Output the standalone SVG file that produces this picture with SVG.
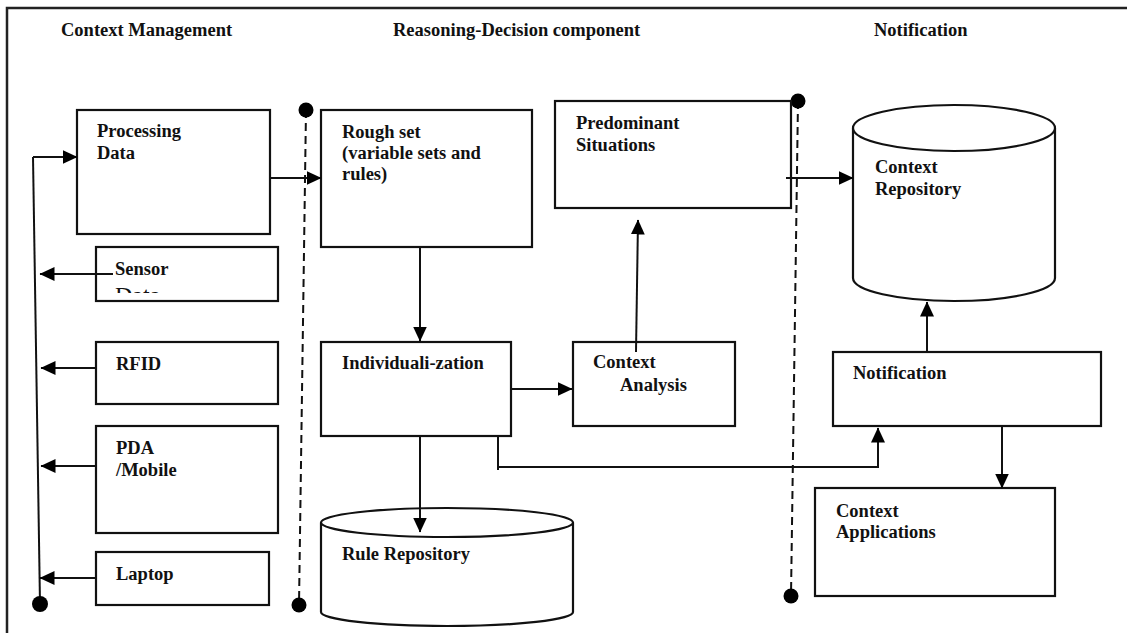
<svg xmlns="http://www.w3.org/2000/svg" width="1127" height="633" viewBox="0 0 1127 633">
<style>
  .box { fill: #ffffff; stroke: #111111; stroke-width: 2.2; }
  .lbl { font-family: "Liberation Serif", "Times New Roman", serif; font-weight: bold; font-size: 18.5px; fill: #111111; }
  .hdr { font-family: "Liberation Serif", "Times New Roman", serif; font-weight: bold; font-size: 18.5px; fill: #111111; }
  .con { fill: none; stroke: #111111; stroke-width: 2; }
  .dash { fill: none; stroke: #111111; stroke-width: 2; stroke-dasharray: 8 5; }
  .dot { fill: #000000; }
  .frame { fill: none; stroke: #222222; stroke-width: 2.5; }
</style>
<defs>
  <marker id="arr" markerUnits="userSpaceOnUse" markerWidth="16" markerHeight="14" refX="14.5" refY="7" orient="auto">
    <path d="M0,0 L15,7 L0,14 Z" fill="#000000"/>
  </marker>
  <clipPath id="sensorClip">
    <rect x="96" y="247" width="182" height="46"/>
  </clipPath>
</defs>
<rect x="0" y="0" width="1127" height="633" fill="#ffffff"/>

<!-- outer frame -->
<path class="frame" d="M7,633 L7,8 L1127,8"/>

<!-- headers -->
<text class="hdr" x="61" y="36">Context Management</text>
<text class="hdr" x="393" y="36">Reasoning-Decision component</text>
<text class="hdr" x="874" y="36">Notification</text>

<!-- separators -->
<g id="separators">
  <line class="dash" x1="306" y1="110" x2="299" y2="605"/>
  <circle class="dot" cx="306" cy="110" r="7.5"/>
  <circle class="dot" cx="299" cy="605" r="7.5"/>
  <line class="dash" x1="798" y1="101" x2="791" y2="596"/>
  <circle class="dot" cx="798" cy="101" r="7.5"/>
  <circle class="dot" cx="791" cy="596" r="7.5"/>
</g>

<g id="processing-data">
  <rect class="box" x="77" y="110" width="193" height="124"/>
  <text class="lbl" x="97" y="137">Processing</text>
  <text class="lbl" x="97" y="159">Data</text>
</g>
<g id="sensor-data">
  <rect class="box" x="96" y="247" width="182" height="54"/>
  <text class="lbl" x="115" y="275">Sensor</text>
  <text x="115" y="303" clip-path="url(#sensorClip)" font-family="Liberation Serif, serif" font-size="24px" fill="#111111">Data</text>
</g>
<g id="rfid">
  <rect class="box" x="96" y="342" width="182" height="62"/>
  <text class="lbl" x="116" y="370">RFID</text>
</g>
<g id="pda-mobile">
  <rect class="box" x="96" y="426" width="182" height="107"/>
  <text class="lbl" x="116" y="454">PDA</text>
  <text class="lbl" x="116" y="476">/Mobile</text>
</g>
<g id="laptop">
  <rect class="box" x="96" y="552" width="173" height="53"/>
  <text class="lbl" x="116" y="580">Laptop</text>
</g>

<g id="rough-set">
  <rect class="box" x="321" y="110" width="211" height="137"/>
  <text class="lbl" x="342" y="138">Rough set</text>
  <text class="lbl" x="342" y="159">(variable sets and</text>
  <text class="lbl" x="342" y="180">rules)</text>
</g>
<g id="individualization">
  <rect class="box" x="321" y="342" width="190" height="94"/>
  <text class="lbl" x="342" y="369">Individuali-zation</text>
</g>
<g id="rule-repository">
  <path class="box" d="M321,522.5 L321,612 A126,14 0 0 0 573,612 L573,522.5"/>
  <ellipse class="box" cx="447" cy="522.5" rx="126" ry="14.5"/>
  <text class="lbl" x="342" y="560">Rule Repository</text>
</g>
<g id="predominant-situations">
  <rect class="box" x="555" y="101" width="236" height="107"/>
  <text class="lbl" x="576" y="129">Predominant</text>
  <text class="lbl" x="576" y="151">Situations</text>
</g>
<g id="context-analysis">
  <rect class="box" x="573" y="342" width="162" height="84"/>
  <text class="lbl" x="593" y="368">Context</text>
  <text class="lbl" x="620" y="391">Analysis</text>
</g>
<g id="context-repository">
  <path class="box" d="M853,128 L853,278 A101,23 0 0 0 1055,278 L1055,128"/>
  <ellipse class="box" cx="954" cy="128" rx="101" ry="23"/>
  <text class="lbl" x="875" y="173">Context</text>
  <text class="lbl" x="875" y="195">Repository</text>
</g>
<g id="notification">
  <rect class="box" x="833" y="352" width="268" height="74"/>
  <text class="lbl" x="853" y="379">Notification</text>
</g>
<g id="context-applications">
  <rect class="box" x="815" y="488" width="240" height="108"/>
  <text class="lbl" x="836" y="517">Context</text>
  <text class="lbl" x="836" y="538">Applications</text>
</g>

<g id="connectors">
  <line class="con" x1="40" y1="604" x2="33" y2="157"/>
  <circle class="dot" cx="40" cy="604" r="8"/>
  <line class="con" x1="33" y1="157" x2="77" y2="157" marker-end="url(#arr)"/>
  <line class="con" x1="113" y1="274" x2="40" y2="274" marker-end="url(#arr)"/>
  <line class="con" x1="96" y1="368" x2="41" y2="368" marker-end="url(#arr)"/>
  <line class="con" x1="96" y1="466" x2="41" y2="466" marker-end="url(#arr)"/>
  <line class="con" x1="96" y1="578" x2="40" y2="578" marker-end="url(#arr)"/>
  <line class="con" x1="270" y1="178" x2="321" y2="178" marker-end="url(#arr)"/>
  <line class="con" x1="420" y1="247" x2="420" y2="341" marker-end="url(#arr)"/>
  <line class="con" x1="420" y1="436" x2="420" y2="532" marker-end="url(#arr)"/>
  <line class="con" x1="511" y1="389" x2="572" y2="389" marker-end="url(#arr)"/>
  <line class="con" x1="636" y1="352" x2="638" y2="220" marker-end="url(#arr)"/>
  <line class="con" x1="786" y1="178" x2="853" y2="178" marker-end="url(#arr)"/>
  <path class="con" d="M498,436 L498,470 M497,467 L878,467 L878,428" marker-end="url(#arr)"/>
  <line class="con" x1="927" y1="352" x2="927" y2="302" marker-end="url(#arr)"/>
  <line class="con" x1="1002" y1="426" x2="1002" y2="488" marker-end="url(#arr)"/>
</g>
</svg>
